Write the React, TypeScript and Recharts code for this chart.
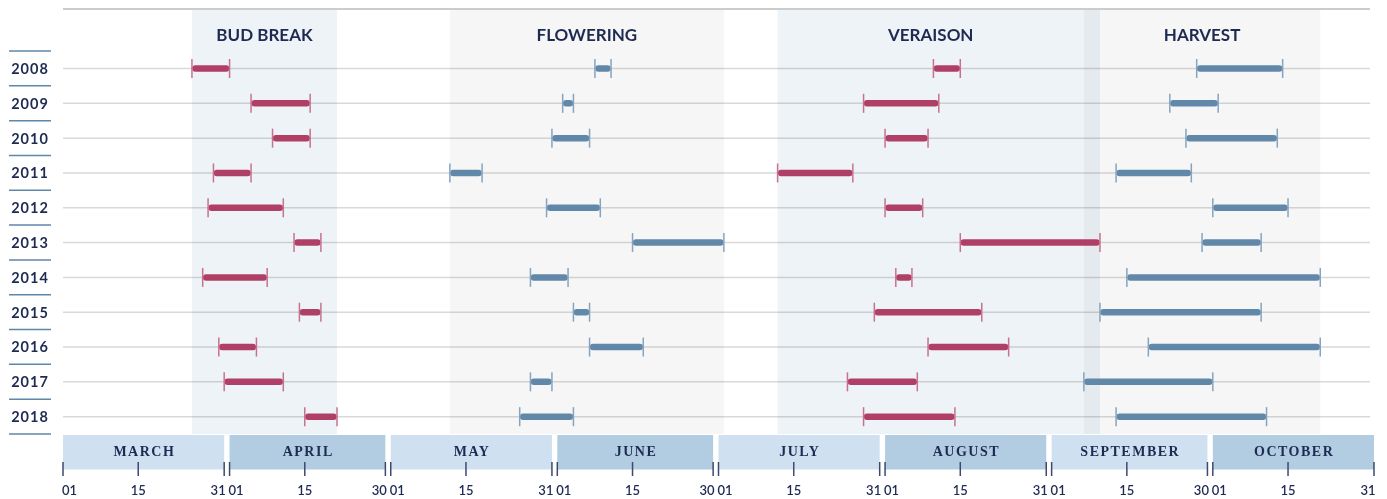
import React from 'react'
import { BarChart, Bar, XAxis, YAxis, ReferenceArea } from 'recharts'

// season runs 1 March -> 31 October, x axis counts days from 1 March
const MONTHS = ['MARCH', 'APRIL', 'MAY', 'JUNE', 'JULY', 'AUGUST', 'SEPTEMBER', 'OCTOBER']
const MONTH_LENGTHS = [31, 30, 31, 30, 31, 31, 30, 31]
const MID_TICK = 15

const YEARS = ['2008', '2009', '2010', '2011', '2012', '2013', '2014', '2015', '2016', '2017', '2018']

// [start, end] as MM-DD, one pair per year
const BUD_BREAK = [
  ['03-25', '04-01'], ['04-05', '04-16'], ['04-09', '04-16'], ['03-29', '04-05'],
  ['03-28', '04-11'], ['04-13', '04-18'], ['03-27', '04-08'], ['04-14', '04-18'],
  ['03-30', '04-06'], ['03-31', '04-11'], ['04-15', '04-21'],
]
const FLOWERING = [
  ['06-08', '06-11'], ['06-02', '06-04'], ['05-31', '06-07'], ['05-12', '05-18'],
  ['05-30', '06-09'], ['06-15', '07-02'], ['05-27', '06-03'], ['06-04', '06-07'],
  ['06-07', '06-17'], ['05-27', '05-31'], ['05-25', '06-04'],
]
const VERAISON = [
  ['08-10', '08-15'], ['07-28', '08-11'], ['08-01', '08-09'], ['07-12', '07-26'],
  ['08-01', '08-08'], ['08-15', '09-10'], ['08-03', '08-06'], ['07-30', '08-19'],
  ['08-09', '08-24'], ['07-25', '08-07'], ['07-28', '08-14'],
]
const HARVEST = [
  ['09-28', '10-14'], ['09-23', '10-02'], ['09-26', '10-13'], ['09-13', '09-27'],
  ['10-01', '10-15'], ['09-29', '10-10'], ['09-15', '10-21'], ['09-10', '10-10'],
  ['09-19', '10-21'], ['09-07', '10-01'], ['09-13', '10-11'],
]

const NAVY = '#1e2a52'
const RED = '#b03f66'
const RED_CAP = '#c7718f'
const BLUE = '#6188a8'
const BLUE_CAP = '#86a3bf'

const monthStart = (m: number) => MONTH_LENGTHS.slice(0, m).reduce((a, b) => a + b, 0)
const toDay = (s: string) => {
  const [mm, dd] = s.split('-').map(Number)
  return monthStart(mm - 3) + dd - 1
}
const LAST_DAY = monthStart(MONTHS.length) - 1

const PHASES = [
  { key: 'bud', label: 'BUD BREAK', rows: BUD_BREAK, bar: RED, cap: RED_CAP, band: '#eef3f7' },
  { key: 'flower', label: 'FLOWERING', rows: FLOWERING, bar: BLUE, cap: BLUE_CAP, band: '#f6f6f6' },
  { key: 'veraison', label: 'VERAISON', rows: VERAISON, bar: RED, cap: RED_CAP, band: '#eef3f7' },
  { key: 'harvest', label: 'HARVEST', rows: HARVEST, bar: BLUE, cap: BLUE_CAP, band: '#f6f6f6' },
].map(p => {
  const starts = p.rows.map(r => toDay(r[0]))
  const ends = p.rows.map(r => toDay(r[1]))
  return { ...p, from: Math.min(...starts), to: Math.max(...ends) }
})

const data = YEARS.map((year, i) => {
  const row: Record<string, unknown> = { year }
  PHASES.forEach(p => { row[p.key] = [toDay(p.rows[i][0]), toDay(p.rows[i][1])] })
  return row
})

const dayTicks = MONTHS.flatMap((_, m) => [
  monthStart(m), monthStart(m) + MID_TICK - 1, monthStart(m) + MONTH_LENGTHS[m] - 1,
])

const dayOfMonth = (d: number) => {
  let m = 0
  while (d >= monthStart(m + 1)) m++
  return d - monthStart(m) + 1
}

const DayTick = (props: any) => {
  const { x, y, payload } = props
  const dom = dayOfMonth(payload.value)
  const anchor = dom === 1 ? 'start' : dom === MID_TICK ? 'middle' : 'end'
  const dx = dom === 1 ? -1 : dom === MID_TICK ? 0 : 1.5
  return (
    <g>
      <line x1={x} x2={x} y1={y + 28} y2={y + 42} stroke="#3c4a70" strokeWidth={1.5} />
      <text x={x + dx} y={y + 61} textAnchor={anchor} fill={NAVY}
        style={{ fontFamily: 'Lato', fontSize: 13, fontWeight: 600 }}>
        {String(dom).padStart(2, '0')}
      </text>
    </g>
  )
}

const YearTick = (props: any) => {
  const { x, y, payload, index } = props
  const half = payload.offset || 17.4
  return (
    <g>
      <line x1={x - 54} x2={x - 12} y1={y - half} y2={y - half} stroke="#5f87aa" strokeWidth={1.5} />
      {index === YEARS.length - 1 && (
        <line x1={x - 54} x2={x - 12} y1={y + half} y2={y + half} stroke="#5f87aa" strokeWidth={1.5} />
      )}
      <text x={x - 33} y={y} textAnchor="middle" dominantBaseline="central" fill={NAVY}
        style={{ fontFamily: 'Lato', fontSize: 14.5, fontWeight: 700, letterSpacing: 1 }}>
        {payload.value}
      </text>
    </g>
  )
}

// row rule across the whole plot, drawn from the bar's background slot
const RowRule = (props: any) => {
  const { x, y, width, height } = props
  const cy = y + height / 2 + 0.5
  return <line x1={x} x2={x + width - 4} y1={cy} y2={cy} stroke="#d9d9d9" strokeWidth={1.5} />
}

const RangeShape = (color: string, cap: string) => (props: any) => {
  const { x, y, width, height } = props
  if (x == null || width == null) return <g />
  const cy = y + height / 2 + 0.5
  const x2 = x + width
  return (
    <g>
      <line x1={x + 3.5} x2={Math.max(x + 3.5, x2 - 3.5)} y1={cy} y2={cy}
        stroke={color} strokeWidth={6.5} strokeLinecap="round" />
      <line x1={x} x2={x} y1={cy - 9.5} y2={cy + 9.5} stroke={cap} strokeWidth={1.5} />
      <line x1={x2} x2={x2} y1={cy - 9.5} y2={cy + 9.5} stroke={cap} strokeWidth={1.5} />
    </g>
  )
}

export default function App() {
  return (
    <div style={{ position: 'absolute', left: 0, top: 0, width: 1387, height: 499, background: '#fff' }}>
      <BarChart
        width={1387}
        height={499}
        data={data}
        layout="vertical"
        margin={{ top: 51, right: 13, bottom: 0, left: 0 }}
        barSize={20}
        barGap={-20}
      >
        {/* thin rule across the very top */}
        <ReferenceArea
          x1={0}
          x2={LAST_DAY}
          shape={(p: any) => (
            <line x1={p.x} x2={p.x + p.width - 4} y1={p.y - 42} y2={p.y - 42} stroke="#cccccc" strokeWidth={2} />
          )}
        />

        {/* phase backgrounds + titles */}
        {PHASES.map((ph, i) => {
          const next = PHASES[i + 1]
          const titleTo = next && next.from < ph.to ? next.from : ph.to
          return (
            <ReferenceArea
              key={ph.key}
              x1={ph.from}
              x2={ph.to}
              shape={(p: any) => {
                const top = p.y - 41
                const tx = p.x + (p.width * (titleTo - ph.from)) / (ph.to - ph.from) / 2
                return (
                  <g>
                    <rect x={p.x} y={top} width={p.width} height={p.y + p.height - top}
                      fill={ph.band} style={{ mixBlendMode: 'multiply' }} />
                    <text x={tx} y={p.y - 16.5} textAnchor="middle" dominantBaseline="central" fill={NAVY}
                      style={{ fontFamily: 'Lato', fontSize: 17, fontWeight: 700 }}>
                      {ph.label}
                    </text>
                  </g>
                )
              }}
            />
          )
        })}

        {/* month strip under the plot */}
        {MONTHS.map((name, m) => (
          <ReferenceArea
            key={name}
            x1={monthStart(m)}
            x2={monthStart(m) + MONTH_LENGTHS[m] - 1}
            shape={(p: any) => {
              const top = p.y + p.height + 1
              return (
                <g>
                  <rect x={p.x} y={top} width={p.width} height={34.5}
                    fill={m % 2 === 0 ? '#cfe1f0' : '#b2cce1'} style={{ mixBlendMode: 'multiply' }} />
                  <text x={p.x + p.width / 2 + 0.75} y={top + 16.5} textAnchor="middle" dominantBaseline="central"
                    fill={NAVY}
                    style={{ fontFamily: 'Liberation Serif', fontSize: 14, fontWeight: 700, letterSpacing: 1.5 }}>
                    {name}
                  </text>
                </g>
              )
            }}
          />
        ))}

        <XAxis
          type="number"
          domain={[0, LAST_DAY]}
          ticks={dayTicks}
          interval={0}
          height={65}
          tickSize={0}
          tickMargin={0}
          axisLine={false}
          tickLine={false}
          tick={<DayTick />}
          allowDataOverflow
        />
        <YAxis
          type="category"
          dataKey="year"
          width={63}
          tickSize={0}
          tickMargin={0}
          axisLine={false}
          tickLine={false}
          tick={<YearTick />}
        />

        {PHASES.map((ph, i) => (
          <Bar
            key={ph.key}
            dataKey={ph.key}
            barSize={20}
            isAnimationActive={false}
            background={i === 0 ? RowRule : false}
            shape={RangeShape(ph.bar, ph.cap)}
          />
        ))}
      </BarChart>
    </div>
  )
}
